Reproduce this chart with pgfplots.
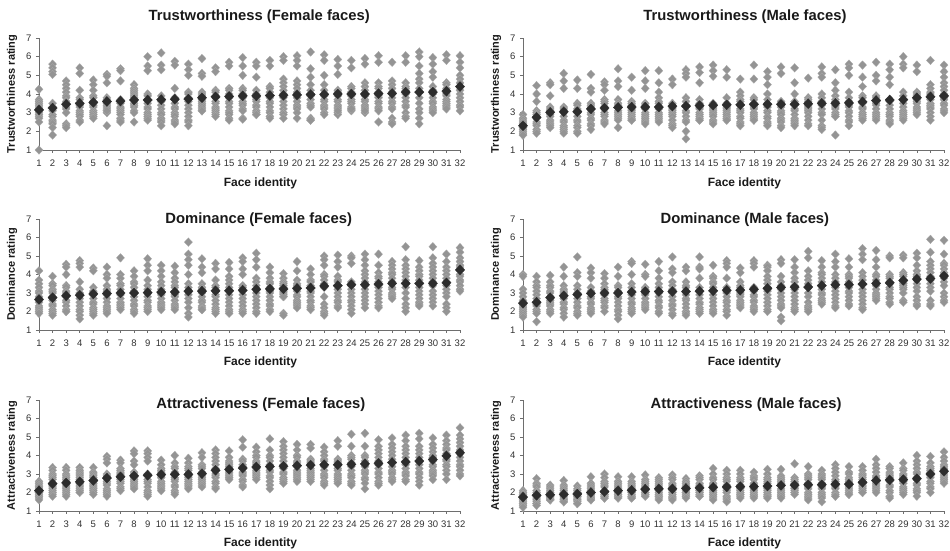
\documentclass[border=0pt]{standalone}
\usepackage{pgfplots}
\usepackage{pgfplotstable}
\pgfplotsset{compat=1.18}
\usepackage{fontspec}
\setmainfont{Liberation Sans}
\definecolor{gpt}{RGB}{148,148,148}
\definecolor{mpt}{RGB}{45,45,45}
\definecolor{axc}{RGB}{110,110,110}
\definecolor{txc}{RGB}{50,50,50}

% columns: face, mean, 14 individual ratings
\pgfplotstableread[header=false]{
1 3.15 4.25 3.7 3.6 3.5 3.4 3.3 3.2 3.1 3.0 2.9 2.8 2.7 2.5 1.0
2 3.25 5.6 5.4 5.2 5.05 3.5 3.3 3.1 2.9 2.8 2.6 2.5 2.4 2.2 1.8
3 3.45 4.7 4.5 4.3 4.1 3.9 3.8 3.6 3.5 3.3 3.2 3.0 2.4 2.3 2.2
4 3.5 5.4 5.1 4.2 3.8 3.7 3.5 3.4 3.3 3.1 3.0 2.9 2.8 2.6 2.5
5 3.55 4.75 4.5 4.2 3.9 3.8 3.6 3.5 3.4 3.3 3.1 3.0 2.9 2.8 2.7
6 3.6 5.05 4.95 4.6 3.8 3.7 3.6 3.5 3.4 3.3 3.2 3.1 3.0 3.1 2.3
7 3.62 5.35 5.25 4.7 3.7 3.6 3.5 3.3 3.2 3.1 3.0 2.9 2.7 2.6 2.5
8 3.68 4.5 4.3 4.2 4.1 4.0 3.9 3.8 3.7 3.5 3.4 3.3 3.1 3.0 2.5
9 3.68 6.0 5.5 5.25 4.0 3.9 3.7 3.5 3.3 3.2 3.0 2.9 2.8 2.7 2.6
10 3.7 6.2 5.55 5.3 3.9 3.7 3.6 3.4 3.2 3.0 2.9 2.7 2.6 2.5 2.3
11 3.72 5.75 5.55 4.3 3.8 3.7 3.5 3.3 3.2 3.0 2.9 2.8 2.6 2.5 2.4
12 3.73 5.6 5.3 5.0 4.1 4.0 3.8 3.6 3.4 3.2 3.0 2.8 2.6 2.5 2.3
13 3.8 5.9 5.1 4.95 4.1 4.0 3.9 3.7 3.6 3.5 3.4 3.3 3.2 3.1 3.1
14 3.85 5.4 5.2 4.2 4.1 3.9 3.8 3.6 3.5 3.3 3.2 3.1 3.0 2.9 2.8
15 3.87 5.7 5.5 4.3 4.2 4.0 3.8 3.6 3.5 3.3 3.1 3.0 2.9 2.7 2.6
16 3.9 5.95 5.5 5.0 4.3 4.2 4.0 3.8 3.6 3.5 3.4 3.2 3.1 2.7 2.65
17 3.9 5.7 5.5 4.9 4.2 4.0 3.8 3.7 3.6 3.4 3.3 3.1 3.0 2.9 2.9
18 3.92 5.8 5.5 4.4 4.3 4.1 3.9 3.8 3.6 3.5 3.3 3.1 3.0 2.8 2.7
19 3.93 6.0 5.8 4.8 4.6 4.4 4.2 4.0 3.8 3.6 3.4 3.2 3.0 2.9 2.7
20 3.95 6.05 5.8 5.5 4.7 4.5 4.3 4.1 3.8 3.6 3.4 3.3 3.2 3.0 2.7
21 3.97 6.25 5.35 4.9 4.5 4.2 4.0 3.9 3.7 3.5 3.4 3.3 2.7 2.6 2.6
22 3.98 6.1 5.8 5.0 4.5 4.2 4.0 3.9 3.7 3.6 3.4 3.3 3.2 3.0 2.9
23 4.0 5.85 5.5 5.05 4.2 4.1 3.9 3.7 3.6 3.4 3.3 3.2 3.0 2.9 3.1
24 4.0 5.8 5.4 4.4 4.3 4.1 4.0 3.9 3.7 3.6 3.5 3.3 3.2 3.1 3.2
25 4.0 5.9 5.6 4.6 4.4 4.2 4.0 3.9 3.7 3.6 3.4 3.3 3.2 3.0 3.1
26 4.02 6.05 5.7 4.6 4.4 4.3 4.1 3.9 3.8 3.6 3.5 3.3 3.2 3.1 2.5
27 4.03 5.7 4.7 4.5 4.3 4.1 4.0 3.8 3.6 3.5 3.3 3.2 2.7 2.5 2.4
28 4.1 6.05 5.7 4.6 4.4 4.3 4.2 4.0 3.8 3.6 3.4 3.3 3.0 2.8 2.7
29 4.1 6.25 6.0 5.5 5.1 4.8 4.6 4.3 4.1 3.8 3.5 3.2 3.0 2.7 2.4
30 4.1 5.95 5.6 5.2 4.9 4.4 4.2 4.0 3.8 3.6 3.5 3.3 3.2 3.1 3.0
31 4.15 6.1 5.8 4.6 4.5 4.3 4.2 4.0 3.9 3.7 3.6 3.5 3.4 3.3 3.2
32 4.4 6.05 5.7 5.4 5.0 4.8 4.6 4.4 4.2 4.0 3.8 3.6 3.4 3.3 3.1
}\TL

\pgfplotstableread[header=false]{
1 2.3 2.9 2.7 2.6 2.5 2.4 2.4 2.3 2.2 2.2 2.1 2.0 1.9 1.8 1.8
2 2.75 4.45 4.0 3.6 3.1 3.0 2.9 2.8 2.7 2.5 2.4 2.3 2.1 2.0 1.9
3 3.02 4.6 4.5 3.9 3.3 3.2 3.1 3.0 2.9 2.8 2.6 2.5 2.4 2.3 2.2
4 3.05 5.1 4.7 4.3 3.3 3.2 3.0 2.8 2.6 2.5 2.3 2.2 2.1 2.0 1.9
5 3.05 4.75 4.3 3.5 3.4 3.2 3.1 3.0 2.8 2.6 2.5 2.3 2.2 2.0 1.9
6 3.2 5.05 4.3 4.1 3.5 3.4 3.3 3.2 3.0 2.9 2.7 2.6 2.4 2.3 2.1
7 3.25 4.65 4.5 4.2 3.7 3.6 3.5 3.3 3.2 3.0 2.9 2.8 2.6 2.5 2.4
8 3.28 5.35 4.7 4.4 3.7 3.5 3.4 3.3 3.1 3.0 2.9 2.8 2.7 2.6 2.2
9 3.3 4.9 4.2 3.6 3.5 3.4 3.3 3.2 3.1 3.0 2.9 2.8 2.7 2.6 2.6
10 3.3 5.25 4.7 4.3 3.5 3.4 3.3 3.2 3.0 2.9 2.8 2.7 2.6 2.5 2.4
11 3.3 5.25 4.6 4.1 3.8 3.6 3.5 3.3 3.2 3.0 2.9 2.8 2.7 2.6 2.5
12 3.35 4.8 4.5 3.5 3.4 3.3 3.2 3.1 3.0 2.9 2.8 2.6 2.4 2.3 2.2
13 3.35 5.3 5.1 4.9 3.8 3.6 3.4 3.3 3.1 3.0 2.8 2.6 2.5 2.0 1.6
14 3.38 5.45 5.15 4.6 3.7 3.5 3.4 3.3 3.2 3.0 2.9 2.8 2.7 2.6 2.6
15 3.4 5.55 5.25 4.95 3.5 3.4 3.3 3.2 3.1 3.0 2.9 2.8 2.6 2.5 2.4
16 3.42 5.3 4.9 3.8 3.5 3.4 3.3 3.2 3.1 3.0 2.9 2.8 2.7 2.6 2.6
17 3.42 4.8 4.1 3.9 3.7 3.6 3.4 3.2 3.1 3.0 2.8 2.7 2.5 2.4 2.3
18 3.45 5.55 4.8 3.8 3.7 3.5 3.4 3.3 3.2 3.0 2.9 2.8 2.7 2.6 2.6
19 3.45 5.2 4.9 4.5 4.0 3.7 3.5 3.3 3.1 3.0 2.8 2.7 2.5 2.4 2.3
20 3.45 5.45 5.1 3.6 3.5 3.4 3.3 3.1 3.0 2.9 2.7 2.6 2.5 2.3 2.2
21 3.45 5.4 4.6 4.0 3.6 3.5 3.4 3.2 3.1 2.9 2.7 2.6 2.5 2.4 2.3
22 3.48 4.85 3.8 3.7 3.6 3.5 3.4 3.3 3.2 3.1 3.0 2.8 2.6 2.4 2.3
23 3.5 5.45 5.1 4.9 4.0 3.8 3.6 3.4 3.2 3.0 2.9 2.6 2.3 2.2 2.1
24 3.5 5.3 4.6 4.2 3.9 3.7 3.6 3.4 3.3 3.2 3.0 2.9 2.8 2.8 1.8
25 3.52 5.6 5.4 5.0 4.1 3.8 3.6 3.4 3.3 3.1 3.0 2.8 2.6 2.5 2.3
26 3.58 5.55 4.9 4.4 3.9 3.8 3.6 3.5 3.3 3.2 3.0 2.9 2.8 2.7 2.6
27 3.65 5.7 5.0 4.7 3.9 3.8 3.6 3.5 3.4 3.2 3.0 2.9 2.8 2.7 2.6
28 3.68 5.6 5.3 4.9 4.5 3.7 3.6 3.4 3.2 3.0 2.9 2.8 2.6 2.5 2.4
29 3.7 6.0 5.6 5.4 4.1 3.9 3.7 3.5 3.3 3.1 3.0 2.9 2.8 2.7 2.6
30 3.8 5.55 5.2 4.1 4.0 3.9 3.8 3.7 3.6 3.5 3.3 3.2 3.1 3.0 2.9
31 3.85 5.8 4.5 4.3 4.1 4.0 3.8 3.7 3.5 3.4 3.3 3.2 3.0 2.8 2.6
32 3.9 5.55 5.2 4.9 4.6 4.4 4.2 4.0 3.8 3.7 3.5 3.4 3.2 3.1 3.0
}\TR

\pgfplotstableread[header=false]{
1 2.65 4.2 3.7 3.5 3.3 3.1 3.0 2.8 2.6 2.5 2.3 2.2 2.1 2.0 1.9
2 2.75 3.9 3.5 3.4 3.2 3.1 3.0 2.8 2.6 2.4 2.3 2.1 2.0 1.9 1.8
3 2.85 4.55 4.4 4.0 3.4 3.3 3.1 3.0 2.8 2.6 2.5 2.3 2.1 2.0 2.0
4 2.88 4.75 4.6 4.4 3.6 3.2 3.0 2.9 2.7 2.5 2.3 2.1 2.0 1.8 1.6
5 2.95 4.35 4.2 3.3 3.1 3.0 2.9 2.7 2.5 2.4 2.2 2.1 2.0 1.9 1.8
6 2.97 4.4 4.0 3.8 3.4 3.2 3.1 2.9 2.7 2.5 2.3 2.2 2.1 2.0 1.9
7 3.0 4.9 4.0 3.8 3.5 3.4 3.2 3.0 2.9 2.7 2.5 2.4 2.3 2.2 2.1
8 3.0 4.2 3.9 3.6 3.5 3.3 3.1 3.0 2.8 2.6 2.4 2.3 2.1 2.0 1.9
9 3.02 4.85 4.5 4.2 3.7 3.4 3.2 3.0 2.8 2.6 2.5 2.3 2.2 2.1 2.0
10 3.05 4.5 4.2 3.9 3.6 3.4 3.2 3.0 2.9 2.7 2.5 2.4 2.3 2.2 2.1
11 3.05 4.45 4.1 3.8 3.6 3.4 3.3 3.1 2.9 2.8 2.6 2.4 2.3 2.2 2.1
12 3.1 5.75 5.1 4.8 4.5 4.0 3.5 3.3 3.1 2.9 2.7 2.5 2.2 1.9 1.7
13 3.1 4.85 4.4 4.1 3.5 3.3 3.2 3.0 2.8 2.6 2.5 2.3 2.2 2.1 2.1
14 3.12 4.6 4.3 3.7 3.4 3.3 3.1 2.9 2.8 2.6 2.4 2.2 2.1 2.0 1.9
15 3.12 4.65 4.3 3.9 3.7 3.5 3.3 3.1 2.9 2.7 2.5 2.3 2.1 2.0 1.9
16 3.15 4.9 4.7 4.3 4.0 3.4 3.3 3.1 2.9 2.7 2.5 2.3 2.1 2.0 1.9
17 3.2 5.15 4.8 4.4 3.8 3.6 3.4 3.2 3.0 2.8 2.6 2.4 2.2 2.0 1.9
18 3.22 4.4 4.1 3.8 3.6 3.5 3.3 3.1 3.0 2.8 2.6 2.4 2.3 2.1 2.0
19 3.22 4.05 3.8 3.6 3.5 3.4 3.3 3.2 3.1 3.0 2.9 2.8 2.8 1.9 1.8
20 3.25 4.7 4.2 3.7 3.5 3.4 3.3 3.1 2.9 2.8 2.6 2.5 2.4 2.3 2.2
21 3.27 4.3 4.0 3.7 3.6 3.4 3.3 3.1 3.0 2.8 2.6 2.5 2.3 2.2 2.1
22 3.38 5.0 4.8 4.5 4.0 3.9 3.7 3.5 3.3 2.8 2.4 2.2 2.0 1.9 1.8
23 3.4 5.05 4.7 4.4 3.9 3.7 3.6 3.4 3.2 3.0 2.8 2.6 2.5 2.3 2.2
24 3.45 5.0 4.9 4.6 3.6 3.5 3.4 3.2 3.0 2.8 2.6 2.5 2.3 2.1 1.9
25 3.45 5.1 4.8 4.5 4.2 4.0 3.8 3.6 3.4 3.2 3.0 2.8 2.6 2.4 2.2
26 3.48 5.1 4.5 4.1 3.9 3.8 3.6 3.4 3.3 3.1 2.9 2.7 2.5 2.3 2.2
27 3.52 4.7 4.5 4.3 4.1 4.0 3.8 3.6 3.5 3.3 3.2 3.0 2.9 2.8 2.7
28 3.52 5.5 4.8 4.5 4.3 4.1 3.9 3.7 3.5 3.3 3.0 2.7 2.4 2.2 2.0
29 3.52 4.75 4.4 4.2 4.0 3.9 3.7 3.5 3.3 3.1 2.9 2.7 2.5 2.4 2.3
30 3.52 5.5 4.9 4.6 4.4 4.2 4.0 3.8 3.6 3.4 3.1 2.9 2.7 2.5 2.3
31 3.55 5.1 4.7 4.4 4.2 4.0 3.8 3.6 3.4 3.2 3.0 2.8 2.4 2.2 2.0
32 4.25 5.45 5.2 4.9 4.7 4.5 4.4 4.2 4.0 3.9 3.7 3.6 3.4 3.2 3.1
}\ML

\pgfplotstableread[header=false]{
1 2.45 4.0 3.9 3.2 3.0 2.8 2.6 2.4 2.3 2.2 2.1 2.0 1.9 1.8 1.7
2 2.5 3.9 3.6 3.4 3.3 3.1 2.9 2.7 2.5 2.4 2.3 2.1 2.0 1.9 1.45
3 2.75 3.95 3.6 3.4 3.3 3.1 3.0 2.8 2.6 2.5 2.4 2.3 2.1 2.0 1.9
4 2.85 4.4 3.9 3.4 3.2 3.1 3.0 2.9 2.7 2.5 2.4 2.2 2.1 1.9 1.7
5 2.92 4.95 4.1 3.9 3.4 3.2 3.0 2.9 2.7 2.5 2.3 2.2 2.0 1.9 1.8
6 2.98 4.35 4.1 3.8 3.3 3.1 3.0 2.8 2.7 2.5 2.4 2.2 2.1 2.0 1.9
7 3.0 4.05 3.8 3.5 3.3 3.2 3.1 3.0 2.9 2.7 2.6 2.5 2.3 2.2 2.0
8 3.0 4.4 3.9 3.4 3.3 3.1 3.0 2.8 2.7 2.5 2.3 2.1 2.0 1.8 1.6
9 3.05 4.7 4.6 4.0 3.5 3.3 3.1 2.9 2.7 2.5 2.4 2.2 2.1 2.0 1.9
10 3.08 4.55 4.0 3.9 3.3 3.2 3.1 3.0 2.9 2.7 2.5 2.4 2.3 2.2 2.1
11 3.08 4.7 4.2 3.8 3.5 3.3 3.1 3.0 2.8 2.6 2.5 2.3 2.2 2.0 1.9
12 3.08 4.95 4.3 4.1 3.6 3.4 3.2 3.0 2.8 2.6 2.4 2.3 2.1 1.9 1.8
13 3.08 4.4 4.2 3.6 3.4 3.3 3.1 2.9 2.7 2.6 2.4 2.2 2.0 1.9 1.8
14 3.1 4.95 4.4 4.3 3.8 3.3 3.1 2.9 2.7 2.5 2.4 2.2 2.1 2.0 1.9
15 3.12 4.5 3.9 3.8 3.6 3.5 3.3 3.1 2.9 2.7 2.5 2.3 2.1 2.0 1.9
16 3.15 4.75 4.6 4.4 3.8 3.3 3.1 3.0 2.8 2.6 2.5 2.3 2.1 2.0 1.8
17 3.15 4.35 4.1 3.6 3.4 3.3 3.2 3.0 2.9 2.8 2.6 2.5 2.4 2.3 2.2
18 3.2 4.75 4.6 4.4 3.3 3.2 3.1 2.9 2.8 2.6 2.5 2.3 2.2 2.1 2.0
19 3.25 4.5 4.4 4.2 3.9 3.7 3.5 3.3 3.1 2.9 2.7 2.5 2.3 2.1 2.0
20 3.3 4.8 4.6 3.9 3.6 3.4 3.2 3.0 2.8 2.6 2.4 2.3 2.2 1.7 1.5
21 3.32 4.8 4.4 4.1 3.8 3.6 3.4 3.2 3.0 2.8 2.6 2.4 2.2 2.1 2.0
22 3.32 5.25 4.9 4.2 3.9 3.7 3.5 3.3 3.0 2.8 2.5 2.3 2.2 2.1 2.0
23 3.4 4.75 4.4 4.1 4.0 3.8 3.6 3.4 3.2 3.0 2.9 2.7 2.6 2.5 2.4
24 3.45 5.1 4.7 4.4 4.0 3.8 3.6 3.4 3.3 3.1 2.9 2.7 2.5 2.3 2.2
25 3.45 4.85 4.4 4.0 3.9 3.8 3.6 3.5 3.3 3.1 3.0 2.8 2.6 2.4 2.3
26 3.48 5.4 5.1 4.8 4.1 3.9 3.7 3.5 3.2 3.0 2.8 2.6 2.4 2.2 2.1
27 3.52 5.3 4.8 4.4 4.0 3.9 3.7 3.5 3.4 3.2 3.0 2.9 2.8 2.7 2.6
28 3.55 5.0 4.9 4.0 3.9 3.8 3.6 3.5 3.3 3.2 3.0 2.8 2.7 2.5 2.4
29 3.68 5.05 4.9 4.1 4.0 3.9 3.7 3.6 3.5 3.4 3.3 3.2 3.0 2.6 2.5
30 3.75 5.15 4.9 4.5 4.2 4.0 3.9 3.7 3.5 3.3 3.1 2.8 2.6 2.4 2.3
31 3.78 5.9 5.2 4.7 4.5 4.3 4.1 3.9 3.7 3.5 3.3 3.1 2.6 2.4 2.3
32 3.92 5.85 5.1 4.6 4.5 4.3 4.1 4.0 3.8 3.6 3.4 3.0 2.8 2.6 2.5
}\MR

\pgfplotstableread[header=false]{
1 2.1 2.6 2.5 2.4 2.3 2.3 2.2 2.1 2.0 2.0 1.9 1.8 1.8 1.7 1.6
2 2.48 3.35 3.2 3.0 2.9 2.8 2.7 2.5 2.4 2.3 2.2 2.1 2.0 1.9 1.8
3 2.52 3.35 3.2 3.0 2.9 2.8 2.7 2.6 2.4 2.3 2.2 2.1 2.0 1.9 1.8
4 2.58 3.35 3.2 3.1 3.0 2.9 2.8 2.7 2.5 2.4 2.3 2.2 2.1 2.1 2.0
5 2.65 3.35 3.1 3.0 2.9 2.8 2.7 2.6 2.5 2.4 2.3 2.2 2.1 2.0 1.9
6 2.78 3.95 3.8 3.6 3.0 2.9 2.8 2.6 2.5 2.4 2.2 2.1 2.0 1.9 1.8
7 2.85 3.75 3.6 3.3 3.2 3.1 3.0 2.9 2.8 2.7 2.6 2.5 2.3 2.2 2.1
8 2.9 4.25 4.1 3.7 3.5 3.1 3.0 2.9 2.8 2.7 2.6 2.5 2.4 2.3 2.2
9 2.93 4.25 4.1 3.9 3.7 3.0 2.9 2.7 2.6 2.5 2.3 2.1 2.0 1.9 1.8
10 2.97 3.75 3.5 3.3 3.2 3.1 3.0 2.9 2.8 2.6 2.5 2.4 2.3 2.2 2.1
11 2.98 4.0 3.6 3.4 3.3 3.1 3.0 2.8 2.7 2.6 2.4 2.3 2.1 2.0 1.9
12 2.98 3.85 3.6 3.4 3.3 3.2 3.0 2.9 2.8 2.7 2.6 2.5 2.4 2.3 2.2
13 3.02 4.15 3.9 3.5 3.4 3.3 3.1 3.0 2.9 2.8 2.7 2.6 2.5 2.4 2.3
14 3.2 4.3 4.1 3.9 3.7 3.5 3.3 3.2 3.0 2.9 2.8 2.6 2.5 2.3 2.2
15 3.25 4.25 3.9 3.7 3.6 3.5 3.4 3.3 3.2 3.1 3.0 2.9 2.8 2.8 2.7
16 3.32 4.85 4.45 3.8 3.7 3.5 3.4 3.3 3.1 3.0 2.9 2.7 2.6 2.4 2.3
17 3.38 4.45 4.2 4.0 3.9 3.7 3.6 3.5 3.3 3.2 3.1 3.0 2.9 2.8 2.7
18 3.4 4.9 4.3 4.0 3.9 3.7 3.5 3.4 3.2 3.1 2.9 2.8 2.6 2.4 2.2
19 3.42 4.75 4.5 4.3 4.1 3.9 3.7 3.5 3.3 3.1 3.0 2.8 2.7 2.6 2.5
20 3.45 4.6 4.3 4.0 3.9 3.7 3.6 3.4 3.2 3.1 3.0 2.9 2.8 2.7 2.6
21 3.48 4.6 4.4 3.8 3.7 3.6 3.5 3.3 3.2 3.1 3.0 2.9 2.8 2.7 2.6
22 3.5 4.45 4.2 4.0 3.8 3.7 3.5 3.4 3.2 3.0 2.9 2.8 2.6 2.5 2.4
23 3.5 4.8 4.5 3.8 3.7 3.6 3.5 3.3 3.2 3.0 2.9 2.8 2.7 2.6 2.5
24 3.52 5.15 4.5 4.0 3.9 3.8 3.6 3.4 3.2 3.0 2.9 2.8 2.6 2.5 2.4
25 3.55 5.2 4.5 4.0 3.9 3.7 3.5 3.4 3.2 3.1 3.0 2.8 2.7 2.5 2.2
26 3.58 4.85 4.5 4.3 4.1 3.9 3.7 3.5 3.3 3.1 3.0 2.8 2.6 2.5 2.4
27 3.62 4.95 4.6 4.4 4.2 4.0 3.8 3.6 3.4 3.2 3.1 3.0 2.8 2.7 2.6
28 3.65 5.1 4.8 4.5 4.3 4.1 3.9 3.7 3.5 3.3 3.1 3.0 2.9 2.7 2.6
29 3.7 5.2 4.9 4.5 4.3 4.1 3.9 3.7 3.5 3.3 3.1 3.0 2.8 2.6 2.4
30 3.78 4.95 4.6 4.4 4.2 4.0 3.9 3.7 3.5 3.4 3.2 3.1 3.0 2.9 2.7
31 3.98 5.1 4.8 4.6 4.4 4.3 4.1 4.0 3.8 3.7 3.5 3.4 3.2 3.0 2.7
32 4.15 5.5 5.1 4.9 4.7 4.5 4.3 4.1 3.9 3.7 3.5 3.4 3.2 3.0 2.9
}\BL

\pgfplotstableread[header=false]{
1 1.75 2.1 2.0 1.9 1.9 1.8 1.8 1.7 1.6 1.6 1.5 1.4 1.4 1.3 1.2
2 1.85 2.75 2.5 2.4 2.3 2.1 2.0 1.9 1.8 1.7 1.6 1.5 1.4 1.4 1.3
3 1.88 2.4 2.3 2.2 2.1 2.0 2.0 1.9 1.8 1.8 1.7 1.7 1.6 1.6 1.6
4 1.9 2.65 2.4 2.3 2.2 2.1 2.0 1.9 1.9 1.8 1.7 1.6 1.6 1.5 1.5
5 1.92 2.35 2.2 2.1 2.0 2.0 1.9 1.8 1.8 1.7 1.6 1.6 1.5 1.4 1.4
6 2.0 2.85 2.5 2.4 2.3 2.2 2.1 2.0 1.9 1.9 1.8 1.7 1.7 1.6 1.6
7 2.05 3.0 2.8 2.6 2.5 2.4 2.3 2.1 2.0 1.9 1.9 1.8 1.8 1.7 1.7
8 2.1 2.85 2.6 2.5 2.4 2.3 2.2 2.1 2.0 1.9 1.9 1.8 1.8 1.7 1.7
9 2.12 2.85 2.6 2.5 2.4 2.3 2.2 2.1 2.0 2.0 1.9 1.8 1.8 1.7 1.7
10 2.18 2.95 2.7 2.6 2.5 2.4 2.3 2.2 2.1 2.0 2.0 1.9 1.9 1.8 1.8
11 2.2 2.8 2.7 2.6 2.5 2.4 2.3 2.2 2.1 2.0 1.9 1.8 1.8 1.7 1.6
12 2.2 2.95 2.8 2.7 2.5 2.4 2.3 2.2 2.1 2.0 1.9 1.8 1.7 1.7 1.6
13 2.22 2.75 2.6 2.5 2.4 2.3 2.3 2.2 2.1 2.0 2.0 1.9 1.8 1.8 1.7
14 2.25 2.9 2.8 2.7 2.5 2.4 2.3 2.2 2.1 2.1 2.0 2.0 1.9 1.8 1.8
15 2.28 3.3 3.0 2.8 2.7 2.5 2.4 2.3 2.2 2.1 2.0 1.9 1.8 1.7 1.6
16 2.3 3.2 3.0 2.8 2.7 2.6 2.4 2.3 2.2 2.1 2.0 1.8 1.7 1.6 1.5
17 2.32 3.2 3.0 2.8 2.7 2.6 2.4 2.3 2.2 2.1 2.0 1.9 1.9 1.8 1.7
18 2.32 3.1 2.9 2.8 2.7 2.5 2.4 2.3 2.2 2.1 2.0 1.9 1.8 1.8 1.7
19 2.35 3.25 3.0 2.8 2.7 2.6 2.5 2.3 2.2 2.1 2.0 1.9 1.8 1.8 1.7
20 2.38 3.25 2.9 2.8 2.7 2.6 2.5 2.4 2.2 2.1 2.0 1.9 1.8 1.8 1.7
21 2.4 3.55 2.8 2.7 2.6 2.5 2.5 2.4 2.3 2.2 2.2 2.1 2.0 2.0 1.9
22 2.42 3.4 3.0 2.9 2.8 2.7 2.5 2.4 2.3 2.2 2.0 1.9 1.8 1.7 1.6
23 2.42 3.2 3.0 2.9 2.8 2.7 2.5 2.4 2.3 2.2 2.0 1.9 1.8 1.7 1.5
24 2.45 3.5 3.3 3.1 2.9 2.7 2.6 2.5 2.4 2.3 2.2 2.0 1.9 1.8 1.8
25 2.45 3.4 3.1 3.0 2.8 2.7 2.6 2.5 2.4 2.3 2.2 2.1 2.0 1.9 1.9
26 2.55 3.4 3.2 3.0 2.9 2.8 2.7 2.6 2.5 2.4 2.3 2.2 2.1 2.0 2.0
27 2.65 3.8 3.5 3.3 3.1 2.9 2.8 2.7 2.6 2.5 2.4 2.3 2.2 2.1 2.0
28 2.68 3.4 3.3 3.1 3.0 2.9 2.8 2.7 2.6 2.4 2.3 2.1 2.0 1.8 1.7
29 2.7 3.6 3.3 3.2 3.0 2.9 2.8 2.7 2.6 2.5 2.3 2.2 2.1 2.0 1.9
30 2.75 4.0 3.7 3.5 3.3 3.1 3.0 2.8 2.7 2.5 2.4 2.2 2.1 2.0 1.8
31 3.0 3.95 3.6 3.4 3.3 3.2 3.1 3.0 2.9 2.8 2.6 2.5 2.3 2.2 2.0
32 3.15 4.2 3.9 3.7 3.5 3.4 3.3 3.2 3.1 3.0 2.9 2.8 2.7 2.6 2.5
}\BR

\pgfplotsset{
  every axis title shift=0pt,
  base/.style={
    scale only axis, width=421pt,
    xmin=1, xmax=32, ymin=1, ymax=7,
    enlargelimits=false, clip=false,
    axis x line=bottom, axis y line=left,
    axis line style={-, draw=axc, line width=0.8pt},
    xtick={1,...,32}, ytick={1,...,7},
    tick align=outside, major tick length=3pt,
    tick style={draw=axc, line width=0.6pt},
    /pgf/number format/assume math mode=true,
    tick label style={font=\fontsize{9.5}{11}\selectfont, text=txc},
    xticklabel style={yshift=-3.5pt},
    yticklabel style={xshift=-1pt},
    title style={font=\fontsize{14.8}{16}\selectfont\bfseries, text=black!90, anchor=center},
    xlabel={Face identity},
    xlabel style={font=\fontsize{12}{14}\selectfont\bfseries, text=black!90, at={(axis description cs:0.526,-0.295)}, anchor=center},
    ylabel style={font=\fontsize{11}{13}\selectfont\bfseries, text=black!90, at={(axis description cs:-0.0641,0.5)}, anchor=center},
  },
  gm/.style={only marks, mark=diamond*, mark size=4.3pt,
    mark options={fill=gpt, draw=gpt!80!white, line width=0.3pt, xscale=1.25}},
  mm/.style={only marks, mark=diamond*, mark size=5.0pt,
    mark options={fill=mpt, draw=mpt, line width=0.3pt, xscale=1.25}},
}

\newcommand{\panel}[7]{%
\begin{axis}[base, at={(#4,#5)}, anchor=south west, height=#6,
  title={#2}, ylabel={#3}, title style={at={(axis description cs:#7)}}]
\pgfplotsinvokeforeach{2,...,15}{\addplot[gm] table[x index=0,y index=##1]{#1};}
\addplot[mm] table[x index=0,y index=1]{#1};
\end{axis}}

\begin{document}
\begin{tikzpicture}[x=1pt,y=1pt]
\useasboundingbox (0,0) rectangle (950,551);
\panel{\TL}{Trustworthiness (Female faces)}{Trustworthiness rating}{39pt}{401pt}{112pt}{0.523,1.188}
\panel{\TR}{Trustworthiness (Male faces)}{Trustworthiness rating}{523pt}{401pt}{112pt}{0.527,1.188}
\panel{\ML}{Dominance (Female faces)}{Dominance rating}{39pt}{221pt}{111pt}{0.522,0.991}
\panel{\MR}{Dominance (Male faces)}{Dominance rating}{523pt}{221pt}{111pt}{0.527,0.991}
\panel{\BL}{Attractiveness (Female faces)}{Attractiveness rating}{39pt}{40pt}{111pt}{0.527,0.955}
\panel{\BR}{Attractiveness (Male faces)}{Attractiveness rating}{523pt}{40pt}{111pt}{0.53,0.955}
\end{tikzpicture}
\end{document}
